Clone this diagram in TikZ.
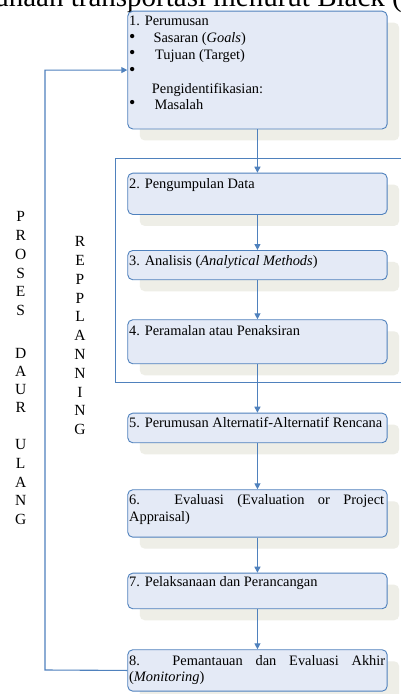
\documentclass[tikz,border=0pt]{standalone}
\usepackage{fontspec}
\setmainfont{Liberation Serif}
\usetikzlibrary{arrows.meta,shadows}
\definecolor{lineblue}{HTML}{4F81BD}
\definecolor{boxfill}{HTML}{E4EAF6}
\definecolor{shade}{HTML}{EEEEE7}
\newcommand{\itemdot}{\raisebox{0.3pt}{\scalebox{1.25}{\textbullet}}}
\tikzset{
  stage/.style={draw=lineblue, line width=0.9pt, fill=boxfill, rounded corners=5pt,
    minimum width=259.4pt, inner sep=0pt, anchor=north west,
    drop shadow={shadow xshift=12pt, shadow yshift=-11.5pt, fill=shade, opacity=1}},
  txt/.style={inner sep=0pt, anchor=base west, font=\fontsize{14.4}{16.6}\selectfont},
  vletter/.style={inner sep=0pt, font=\fontsize{15.5}{17}\selectfont},
  conn/.style={draw=lineblue, line width=1.1pt, -{Triangle[length=6pt,width=6pt]}},
  frame/.style={draw=lineblue, line width=0.9pt},
  heading/.style={inner sep=0pt, anchor=base east, font=\fontsize{29}{33}\selectfont},
}
\begin{document}
\begin{tikzpicture}[x=1pt,y=-1pt]
\clip (0,0) rectangle (401,694);
\fill[white] (0,0) rectangle (401,694);

% heading running off the top edge
\node[heading] (ttl) at (402,6) {anaan transportasi menurut Black (};

% frame around stages 2--4
\coordinate (fr1) at (411,158.3);
\coordinate (fr2) at (115.7,158.3);
\coordinate (fr3) at (115.7,382.7);
\coordinate (fr4) at (411,382.7);
\draw[frame] (fr1) -- (fr2) -- (fr3) -- (fr4);

% stages
\node[stage, minimum height=117.8pt] (b1) at (127.3,10.7) {};
\node[stage, minimum height=41.3pt]  (b2) at (127.3,172.7) {};
\node[stage, minimum height=29.3pt]  (b3) at (127.3,250) {};
\node[stage, minimum height=44pt]    (b4) at (127.3,319.3) {};
\node[stage, minimum height=29.6pt]  (b5) at (127.3,412.7) {};
\node[stage, minimum height=47.4pt]  (b6) at (127.3,489.3) {};
\node[stage, minimum height=35.6pt]  (b7) at (127.3,572.7) {};
\node[stage, minimum height=41.4pt]  (b8) at (127.3,649.3) {};

% stage texts
\node[txt] (t1a) at ([shift={(1.7,15)}]b1.north west) {1. Perumusan};
\node[txt] (t1b) at ([shift={(1.5,31.6)}]b1.north west) {\makebox[24.5pt][l]{\itemdot}Sasaran (\textit{Goals})};
\node[txt] (t1c) at ([shift={(1.5,48.3)}]b1.north west) {\makebox[26.2pt][l]{\itemdot}Tujuan (Target)};
\node[txt] (t1d) at ([shift={(1.5,65.1)}]b1.north west) {\itemdot};
\node[txt] (t1e) at ([shift={(24.4,82.6)}]b1.north west) {Pengidentifikasian:};
\node[txt] (t1f) at ([shift={(1.5,98.3)}]b1.north west) {\makebox[25.5pt][l]{\itemdot}Masalah};

\node[txt] (t2) at ([shift={(1.7,15.5)}]b2.north west) {2. Pengumpulan Data};
\node[txt] (t3) at ([shift={(1.7,15)}]b3.north west) {3. Analisis (\textit{Analytical Methods})};
\node[txt] (t4) at ([shift={(1.7,15.7)}]b4.north west) {4. Peramalan atau Penaksiran};
\node[txt] (t5) at ([shift={(1.7,14.7)}]b5.north west) {5. Perumusan Alternatif-Alternatif Rencana};
\node[txt] (t6a) at ([shift={(1.7,15)}]b6.north west) {\makebox[255pt][s]{6. Evaluasi (Evaluation or Project}};
\node[txt] (t6b) at ([shift={(1.7,32.4)}]b6.north west) {Appraisal)};
\node[txt] (t7) at ([shift={(1.7,14.2)}]b7.north west) {7. Pelaksanaan dan Perancangan};
\node[txt] (t8a) at ([shift={(1.7,15.7)}]b8.north west) {\makebox[256pt][s]{8. Pemantauan dan Evaluasi Akhir}};
\node[txt] (t8b) at ([shift={(1.7,32.4)}]b8.north west) {(\textit{Monitoring})};

% main flow
\draw[conn] (b1) -- (b2);
\draw[conn] (b2) -- (b3);
\draw[conn] (b3) -- (b4);
\draw[conn] (b4) -- (b5);
\draw[conn] (b5) -- (b6);
\draw[conn] (b6) -- (b7);
\draw[conn] (b7) -- (b8);

% feedback loop
\coordinate (fb) at (45,670);
\draw[conn] (b8.west) -- (fb) |- (b1.west);

% vertical captions
\foreach \ch/\yy [count=\i] in {P/216.7, R/235.5, O/254.3, S/273.1, E/291.9, S/310.7,
    D/353.5, A/371.5, U/389.2, R/407, U/444.5, L/463.3, A/482.1, N/500.9, G/519.7}
  \node[vletter] (pdu\i) at (20.7,\yy) {\ch};
\foreach \ch [count=\i from 0] in {R,E,P,P,L,A,N,N,I,N,G}
  \node[vletter] (rp\i) at (80,241.7+18.8*\i) {\ch};
\end{tikzpicture}
\end{document}
